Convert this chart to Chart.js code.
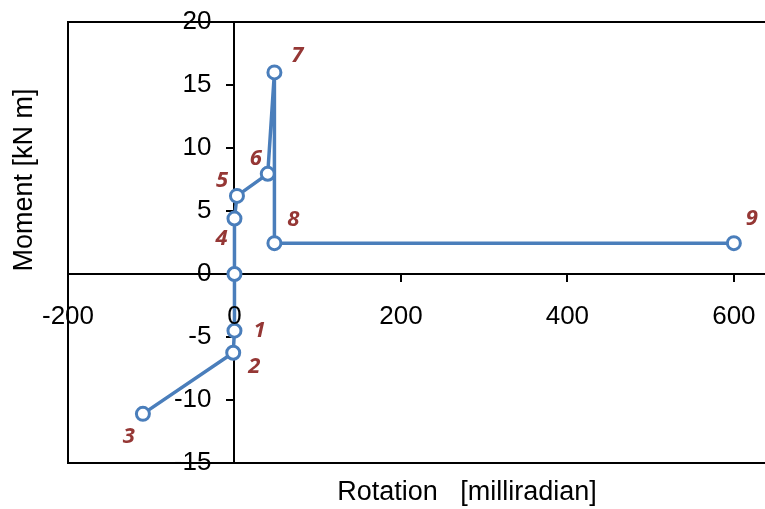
<!DOCTYPE html>
<html>
<head>
<meta charset="utf-8">
<script src="https://cdn.jsdelivr.net/npm/chart.js@4.4.1/dist/chart.umd.min.js"></script>
<style>
  html, body { margin: 0; padding: 0; background: #fff; }
  #wrap { width: 765px; height: 509px; position: relative; }
</style>
</head>
<body>
<div id="wrap"><canvas id="chart"></canvas></div>
<script>
// path order of the loading history (origin has no label)
const rotation = [-110, -1.5, 0, 0, 0, 3, 40, 48, 48, 600];
const moment = [-11.1, -6.25, -4.5, 0, 4.4, 6.2, 7.95, 16, 2.45, 2.45];
const pointLabels = ["3", "2", "1", "", "4", "5", "6", "7", "8", "9"];
const xTicks = [-200, 0, 200, 400, 600];
const yTicks = [-15, -10, -5, 0, 5, 10, 15, 20];

// label offsets from the marker, in px
const labelOffsets = [[-14, 23], [21, 14], [25, 0], [0, 0], [-13, 20], [-15, -15], [-12, -15], [23, -17], [19, -23], [18, -24]];

const points = rotation.map((x, i) => ({ x: x, y: moment[i] }));

const frameAndLabels = {
    id: "frameAndLabels",
    beforeDatasetsDraw(chart) {
        const ctx = chart.ctx;
        const a = chart.chartArea;
        ctx.save();
        ctx.strokeStyle = "#000";
        ctx.lineWidth = 2;
        ctx.beginPath();
        ctx.moveTo(chart.width, a.top);
        ctx.lineTo(a.left, a.top);
        ctx.lineTo(a.left, a.bottom);
        ctx.lineTo(chart.width, a.bottom);
        // x axis line runs to the edge as well
        const y0 = chart.scales.y.getPixelForValue(0);
        ctx.moveTo(a.left, y0);
        ctx.lineTo(chart.width, y0);
        ctx.stroke();
        ctx.restore();
    },
    afterDatasetsDraw(chart) {
        const ctx = chart.ctx;
        const xs = chart.scales.x;
        const ys = chart.scales.y;
        ctx.save();
        // point numbers
        ctx.fillStyle = "#953735";
        ctx.font = "italic bold 22px 'Open Sans', 'DejaVu Sans', sans-serif";
        ctx.textAlign = "center";
        ctx.textBaseline = "middle";
        points.forEach((p, i) => {
            if (!pointLabels[i]) return;
            const px = xs.getPixelForValue(p.x) + labelOffsets[i][0];
            const py = ys.getPixelForValue(p.y) + labelOffsets[i][1];
            ctx.fillText(pointLabels[i], px, py);
        });
        // tick labels
        ctx.fillStyle = "#000";
        ctx.font = "26px 'Liberation Sans', Arial, sans-serif";
        ctx.textAlign = "center";
        xTicks.forEach(v => {
            ctx.fillText(String(v), xs.getPixelForValue(v), ys.getPixelForValue(0) + 43);
        });
        ctx.textAlign = "right";
        yTicks.forEach(v => {
            ctx.fillText(String(v), xs.getPixelForValue(0) - 23, ys.getPixelForValue(v));
        });
        // axis titles
        ctx.font = "27px 'Liberation Sans', Arial, sans-serif";
        ctx.textAlign = "center";
        ctx.fillText("Rotation   [milliradian]", 467, 493);
        ctx.translate(25, 180);
        ctx.rotate(-Math.PI / 2);
        ctx.fillText("Moment [kN m]", 0, 0);
        ctx.restore();
    }
};

new Chart(document.getElementById("chart"), {
    type: "scatter",
    data: {
        datasets: [{
            data: points,
            showLine: true,
            borderColor: "#4a7ebb",
            borderWidth: 3.5,
            pointRadius: 6.5,
            pointBorderWidth: 3,
            pointBackgroundColor: "#fff",
            pointBorderColor: "#4a7ebb",
            tension: 0
        }]
    },
    options: {
        responsive: true,
        maintainAspectRatio: false,
        animation: false,
        layout: { padding: { left: 68, top: 22, right: 0, bottom: 46 } },
        plugins: { legend: { display: false }, tooltip: { enabled: false } },
        scales: {
            x: {
                type: "linear",
                position: { y: 0 },
                min: -200,
                max: 626,
                afterBuildTicks: s => { s.ticks = xTicks.map(v => ({ value: v })); },
                ticks: { display: false },
                grid: { drawOnChartArea: false, tickLength: 7, color: "#000", lineWidth: 2 },
                border: { color: "#000", width: 2 }
            },
            y: {
                type: "linear",
                position: { x: 0 },
                min: -15,
                max: 20,
                afterBuildTicks: s => { s.ticks = yTicks.map(v => ({ value: v })); },
                ticks: { display: false },
                grid: { drawOnChartArea: false, tickLength: 7, color: "#000", lineWidth: 2 },
                border: { color: "#000", width: 2 }
            }
        }
    },
    plugins: [frameAndLabels]
});
</script>
</body>
</html>
